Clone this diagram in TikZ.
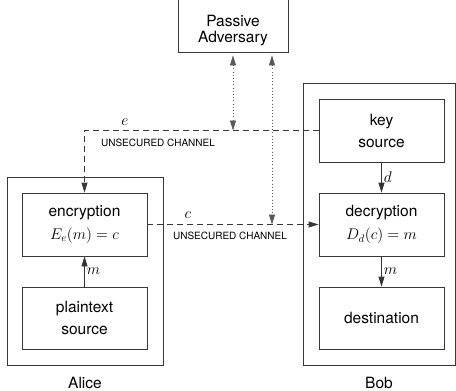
\RequirePackage{fix-cm}
\documentclass[tikz,border=0pt]{standalone}
\usepackage{fontspec}
\setmainfont{TeX Gyre Heros}
\usetikzlibrary{arrows.meta}
\begin{document}
\begin{tikzpicture}[x=1pt,y=-1pt,
  every node/.style={font=\fontsize{15.5}{22}\selectfont, text=black},
  box/.style={draw=black!78, line width=0.8pt, inner sep=0pt, align=center},
  chan/.style={font=\fontsize{10}{12}\selectfont, inner sep=0pt},
  solidline/.style={draw=black!80, line width=0.8pt},
  dashline/.style={draw=black!78, line width=0.8pt, dash pattern=on 6pt off 4pt},
  dotline/.style={draw=black!65, line width=0.6pt, dash pattern=on 0.6pt off 2.6pt},
  tip/.style={-{Triangle[length=10pt,width=6pt]}},
  dtip/.style={{Triangle[length=10pt,width=6pt]}-{Triangle[length=10pt,width=6pt]}},
  lbl/.style={inner sep=2pt}
]
\useasboundingbox (0,0) rectangle (456,391);

% boxes
\node[box, minimum width=110pt, minimum height=56pt] (adv) at (233,24) {};
\node[align=center, font=\fontsize{15.5}{16}\selectfont] (advtext) at (233,31) {Passive\\Adversary};

\node[box, minimum width=156pt, minimum height=188pt] (alice) at (85,271) {};
\node[box, minimum width=152pt, minimum height=282pt] (bob) at (379,224) {};

\node[box, minimum width=125pt, minimum height=63pt] (enc) at (84.5,224.5) {encryption\\[1pt]$E_e(m)=c$};
\node[box, minimum width=125pt, minimum height=62pt] (plain) at (84.5,318) {plaintext\\source};
\node[box, minimum width=125pt, minimum height=63pt] (key) at (381.5,130.5) {key\\source};
\node[box, minimum width=125pt, minimum height=63pt] (dec) at (381.5,224.5) {decryption\\[1pt]$D_d(c)=m$};
\node[box, minimum width=125pt, minimum height=62pt] (dest) at (381.5,318) {destination};

\node (alicelbl) at (85,383) {Alice};
\node (boblbl) at (379,383) {Bob};

% solid arrows
\draw[solidline, tip] (plain.north) -- (enc.south) node[midway, right, lbl] {$m$};
\draw[solidline, tip] (key.south) -- (dec.north) node[midway, right, lbl] {$d$};
\draw[solidline, tip] (dec.south) -- (dest.north) node[midway, right, lbl] {$m$};

% unsecured channels
\draw[dashline, tip] (key.west) -| (enc.north);
\node (elbl) at (125,122) {$e$};
\node[chan] (ch1) at (158,143) {UNSECURED CHANNEL};
\draw[dashline, tip] (enc.east) -- (dec.west);
\node (clbl) at (188,215) {$c$};
\node[chan] (ch2) at (230,236) {UNSECURED CHANNEL};

% adversary taps
\coordinate (etap) at (233,130.5);
\coordinate (ctap) at (272,224.5);
\draw[dotline, dtip, shorten <=3pt] (adv.south -| etap) -- (etap);
\draw[dotline, dtip, shorten <=3pt] (adv.south -| ctap) -- (ctap);
\end{tikzpicture}
\end{document}
